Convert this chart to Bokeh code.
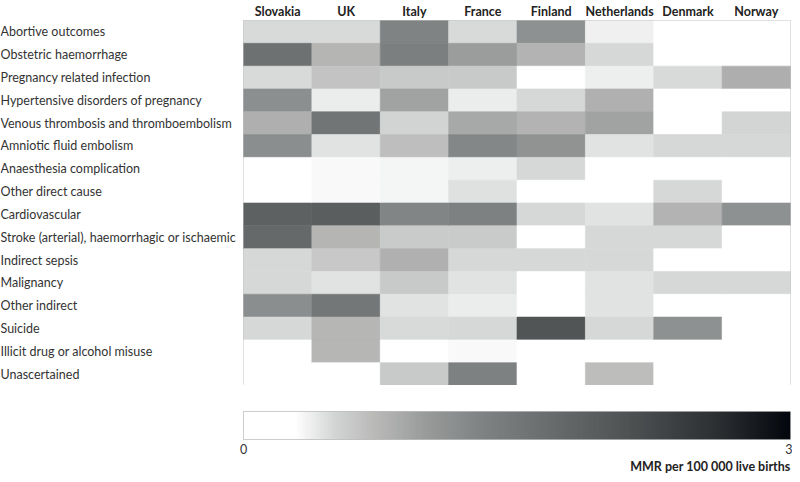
import numpy as np
from bokeh.plotting import figure
from bokeh.layouts import column, row
from bokeh.models import (FactorRange, Range1d, LinearColorMapper, ColumnDataSource,
                          FixedTicker, Title)
from bokeh.core.properties import value
from bokeh.embed import file_html
from bokeh.resources import INLINE

# ---------------- data ----------------
countries = ["Slovakia", "UK", "Italy", "France", "Finland", "Netherlands", "Denmark", "Norway"]
causes = [
    "Abortive outcomes",
    "Obstetric haemorrhage",
    "Pregnancy related infection",
    "Hypertensive disorders of pregnancy",
    "Venous thrombosis and thromboembolism",
    "Amniotic fluid embolism",
    "Anaesthesia complication",
    "Other direct cause",
    "Cardiovascular",
    "Stroke (arterial), haemorrhagic or ischaemic",
    "Indirect sepsis",
    "Malignancy",
    "Other indirect",
    "Suicide",
    "Illicit drug or alcohol misuse",
    "Unascertained",
]
# MMR per 100 000 live births, one value per cause (order as above)
slovakia    = [0.47, 1.60, 0.48, 1.15, 0.81, 1.17, 0.00, 0.00, 1.87, 1.73, 0.49, 0.49, 1.17, 0.49, 0.00, 0.00]
uk          = [0.47, 0.75, 0.64, 0.38, 1.53, 0.43, 0.31, 0.31, 1.92, 0.76, 0.60, 0.43, 1.50, 0.74, 0.74, 0.00]
italy       = [1.30, 1.37, 0.59, 0.93, 0.51, 0.67, 0.33, 0.33, 1.27, 0.58, 0.80, 0.59, 0.43, 0.48, 0.00, 0.59]
france      = [0.47, 0.98, 0.59, 0.38, 0.87, 1.25, 0.37, 0.44, 1.33, 0.58, 0.49, 0.43, 0.38, 0.49, 0.31, 1.33]
finland     = [1.13, 0.78, 0.00, 0.49, 0.78, 1.09, 0.49, 0.00, 0.49, 0.00, 0.49, 0.00, 0.00, 2.07, 0.00, 0.00]
netherlands = [0.36, 0.49, 0.37, 0.80, 0.93, 0.43, 0.00, 0.00, 0.43, 0.49, 0.49, 0.43, 0.43, 0.49, 0.00, 0.68]
denmark     = [0.00, 0.00, 0.48, 0.00, 0.00, 0.49, 0.00, 0.49, 0.78, 0.49, 0.00, 0.49, 0.00, 1.13, 0.00, 0.00]
norway      = [0.00, 0.00, 0.83, 0.00, 0.50, 0.49, 0.00, 0.00, 1.13, 0.00, 0.00, 0.49, 0.00, 0.00, 0.00, 0.00]
series = [slovakia, uk, italy, france, finland, netherlands, denmark, norway]

scale_low, scale_high = 0, 3
scale_ticks = [0, 3]
scale_title = "MMR per 100 000 live births"

# ---------------- colour scale ----------------
stops = [
    (0.00, (255, 255, 255)),
    (0.28, (255, 255, 255)),
    (0.50, (211, 213, 213)),
    (0.70, (187, 187, 186)),
    (1.00, (153, 155, 155)),
    (1.30, (128, 131, 131)),
    (1.70, (103, 107, 108)),
    (2.10, (79, 83, 84)),
    (2.60, (44, 47, 50)),
    (3.00, (3, 6, 12)),
]


def build_palette(n=256):
    vs = [s[0] for s in stops]
    chans = [[s[1][k] for s in stops] for k in range(3)]
    pal = []
    for i in range(n):
        v = scale_low + (scale_high - scale_low) * (i + 0.5) / n
        if i == 0:
            v = 0
        rgb = [int(round(np.interp(v, vs, c))) for c in chans]
        pal.append("#%02x%02x%02x" % tuple(rgb))
    return pal


mapper = LinearColorMapper(palette=build_palette(), low=scale_low, high=scale_high)

FONT = "Lato"
LABEL_W = 243
TOP = 17
ROW_H = 23
MAIN_H = TOP + int(round(len(causes) * ROW_H))
TOTAL_W = 792
TOTAL_H = 474

xs, ys, vals = [], [], []
for c, vals_c in zip(countries, series):
    for cause, v in zip(causes, vals_c):
        xs.append(c)
        ys.append(cause)
        vals.append(v)
src = ColumnDataSource(dict(country=xs, cause=ys, mmr=vals))

y_range = FactorRange(factors=list(reversed(causes)), range_padding=0)

# ---------------- row labels ----------------
p_lab = figure(width=LABEL_W, height=MAIN_H, x_range=Range1d(0, 1), y_range=y_range,
               x_axis_location=None, y_axis_location=None,
               output_backend="svg", toolbar_location=None,
               min_border_top=TOP, min_border_left=0, min_border_right=0, min_border_bottom=0)
p_lab.outline_line_color = None
p_lab.grid.visible = False
p_lab.text(x=0, y="cause", text="cause", source=ColumnDataSource(dict(cause=causes)),
           text_align="left", text_baseline="middle",
           text_font=value(FONT), text_font_size="12.5px", text_color="#333333")

# ---------------- heatmap ----------------
p = figure(width=TOTAL_W - LABEL_W, height=MAIN_H, x_range=FactorRange(*countries),
           y_range=y_range, x_axis_location="above", y_axis_location=None,
           output_backend="svg", toolbar_location=None,
           min_border_top=TOP, min_border_left=0, min_border_right=2, min_border_bottom=0)
p.rect(x="country", y="cause", width=1, height=1, source=src,
       fill_color={"field": "mmr", "transform": mapper},
       line_color={"field": "mmr", "transform": mapper}, line_width=0.6)
p.grid.visible = False
p.outline_line_color = "#c4c4c4"
p.outline_line_width = 1
ax = p.xaxis[0]
ax.axis_line_color = None
ax.major_tick_line_color = None
ax.minor_tick_line_color = None
ax.major_tick_out = 0
ax.major_tick_in = 0
ax.major_label_standoff = 2
ax.major_label_text_font = FONT
ax.major_label_text_font_style = "bold"
ax.major_label_text_font_size = "12.5px"
ax.major_label_text_color = "#222222"

# ---------------- colour bar ----------------
p_cb = figure(width=TOTAL_W, height=TOTAL_H - MAIN_H, x_range=Range1d(scale_low, scale_high),
              y_range=Range1d(0, 1), y_axis_location=None,
              output_backend="svg", toolbar_location=None,
              min_border_top=26, min_border_left=LABEL_W, min_border_right=2, min_border_bottom=30)
grad = np.linspace(scale_low, scale_high, 600).reshape(1, -1)
p_cb.image(image=[grad], x=scale_low, y=0, dw=scale_high - scale_low, dh=1, color_mapper=mapper)
p_cb.grid.visible = False
p_cb.outline_line_color = "#bdbdbd"
cax = p_cb.xaxis[0]
cax.ticker = FixedTicker(ticks=scale_ticks)
cax.axis_line_color = None
cax.major_tick_line_color = None
cax.minor_tick_line_color = None
cax.major_tick_out = 0
cax.major_tick_in = 0
cax.major_label_standoff = 4
cax.major_label_text_font = FONT
cax.major_label_text_font_size = "12.5px"
cax.major_label_text_color = "#333333"
p_cb.add_layout(Title(text=scale_title, align="right", text_font=FONT, text_font_style="bold",
                      text_font_size="12.5px", text_color="#222222", standoff=1), "below")

layout = column(row(p_lab, p), p_cb)
open("out.html", "w").write(file_html(layout, INLINE))
